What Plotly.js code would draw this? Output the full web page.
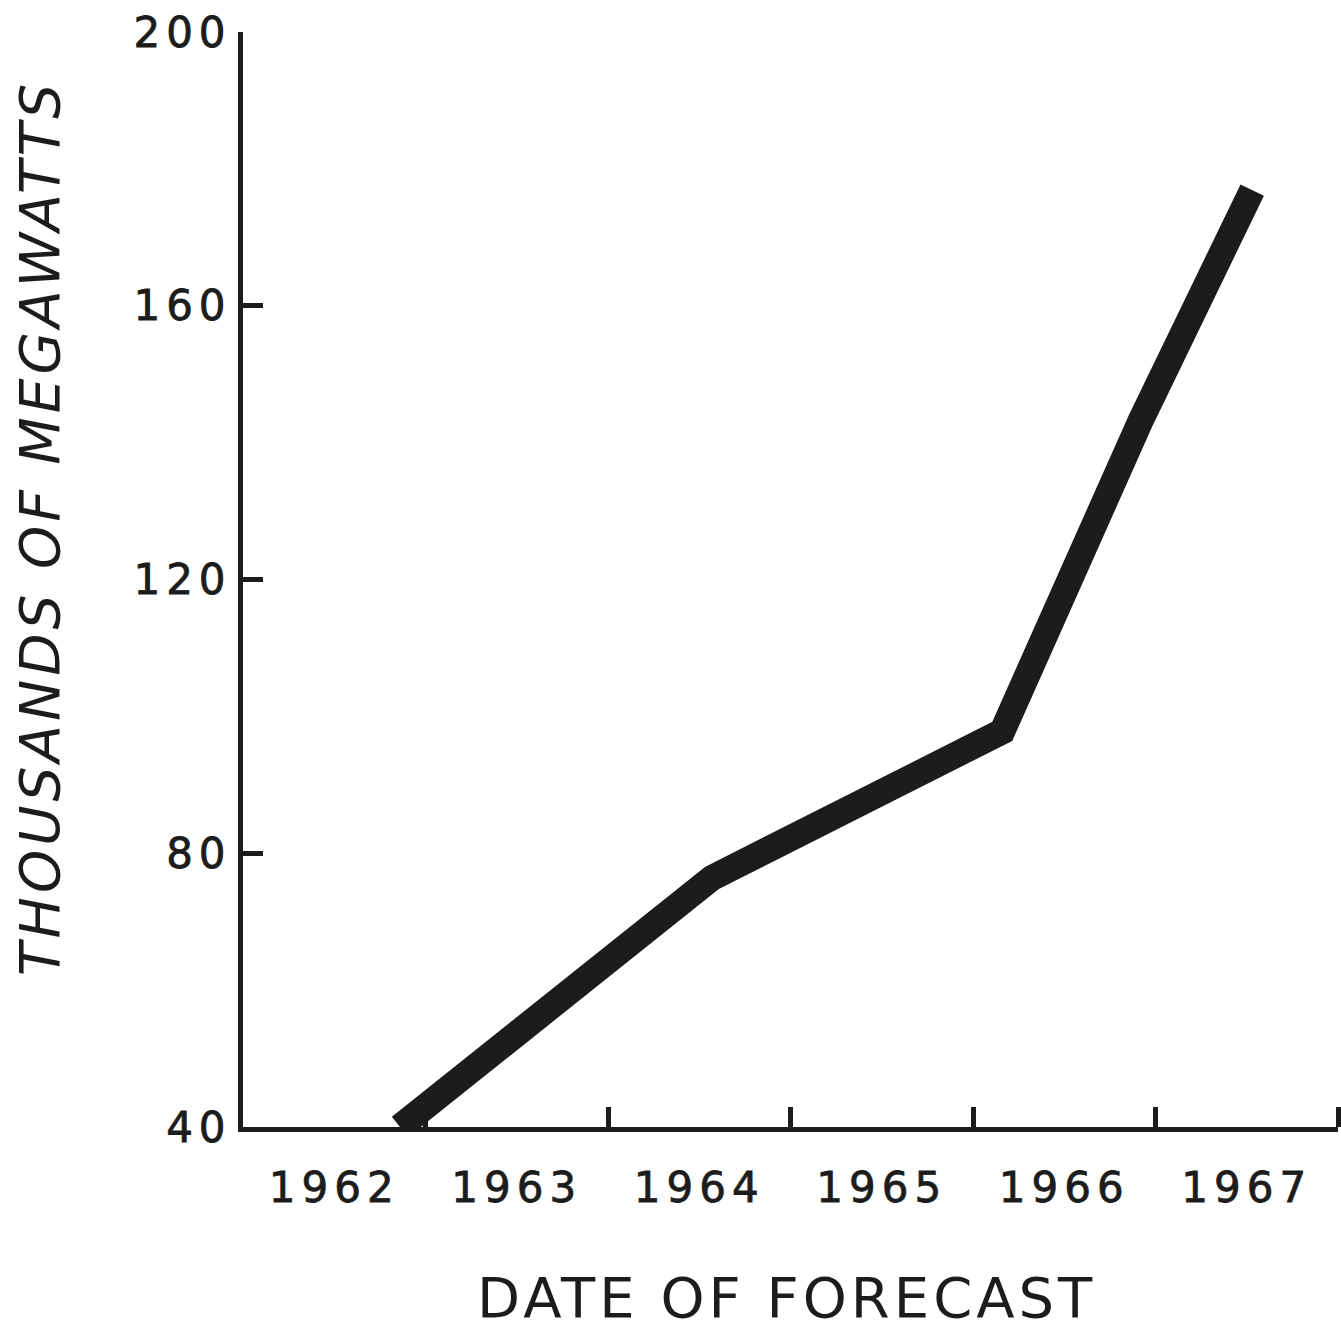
<!DOCTYPE html>
<html>
<head>
<meta charset="utf-8">
<script src="https://cdn.plot.ly/plotly-3.0.1.min.js"></script>
<style>
html,body{margin:0;padding:0;background:#fff;}
#chart{width:1341px;height:1329px;}
.xtick text,.ytick text{letter-spacing:6px;stroke:#1c1c1c;stroke-width:0.8px;}
.annotation text{letter-spacing:4px;}
</style>
</head>
<body>
<div id="chart"></div>
<script>
// Forecast date (fractional year) and forecast capacity (thousands of MW)
const forecastDate = [1962.86, 1964.57, 1966.16, 1966.92, 1967.53];
const megawattsThousands = [40, 76.4, 97.8, 143.3, 176.9];

const yearLabels = ['1962', '1963', '1964', '1965', '1966', '1967'];
const yearLabelPos = [1962.5, 1963.5, 1964.5, 1965.5, 1966.5, 1967.5];
const yearBoundaries = [1963, 1964, 1965, 1966, 1967, 1968];
const yTicks = [40, 80, 120, 160, 200];

const ink = '#1c1c1c';
const fontFam = 'DejaVu Sans, sans-serif';

const trace = {
  x: forecastDate,
  y: megawattsThousands,
  type: 'scatter',
  mode: 'lines',
  line: {color: ink, width: 26},
  hoverinfo: 'skip'
};

const layout = {
  width: 1341,
  height: 1329,
  margin: {l: 243, r: 3, t: 32, b: 202},
  paper_bgcolor: '#fff',
  plot_bgcolor: '#fff',
  showlegend: false,
  xaxis: {
    range: [1962, 1968],
    showgrid: false,
    zeroline: false,
    showline: true,
    linecolor: ink,
    linewidth: 5,
    tickvals: yearLabelPos,
    ticktext: yearLabels,
    ticks: '',
    ticklabelstandoff: 20,
    tickfont: {family: fontFam, size: 42, color: ink},
    minor: {tickvals: yearBoundaries, ticks: 'inside', ticklen: 20, tickwidth: 5, tickcolor: ink, showgrid: false},
    fixedrange: true
  },
  yaxis: {
    range: [40, 200],
    showgrid: false,
    zeroline: false,
    showline: true,
    linecolor: ink,
    linewidth: 5,
    tickvals: yTicks,
    ticktext: yTicks.map(String),
    ticks: 'inside',
    ticklen: 20,
    tickwidth: 5,
    tickcolor: ink,
    ticklabelstandoff: -2,
    tickfont: {family: fontFam, size: 42, color: ink},
    fixedrange: true
  },
  annotations: [
    {
      text: 'DATE OF FORECAST',
      xref: 'paper', yref: 'paper',
      x: 0.497, y: 0, yshift: -170,
      showarrow: false,
      xanchor: 'center', yanchor: 'middle',
      font: {family: fontFam, size: 56, color: ink}
    },
    {
      text: '<i>THOUSANDS OF MEGAWATTS</i>',
      xref: 'paper', yref: 'paper',
      x: 0, xshift: -203,
      y: 0.547,
      textangle: -90,
      showarrow: false,
      xanchor: 'center', yanchor: 'middle',
      font: {family: fontFam, size: 55, color: ink}
    }
  ]
};

Plotly.newPlot('chart', [trace], layout, {displayModeBar: false, staticPlot: true});
</script>
</body>
</html>
